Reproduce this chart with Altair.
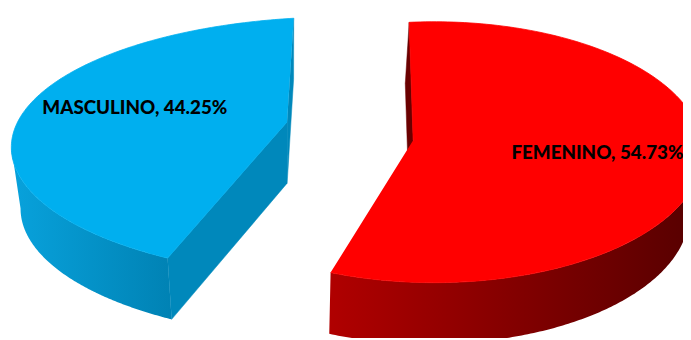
import math
import pandas as pd
import altair as alt

# ---- data -------------------------------------------------------------
categories = ["FEMENINO", "MASCULINO"]
values = [54.73, 44.25]          # percent

# ---- style --------------------------------------------------------------
top_color = {"FEMENINO": "#FF0000", "MASCULINO": "#00AFEF"}
wall_light = {"FEMENINO": "#B00000", "MASCULINO": "#08A2DC"}
wall_dark = {"FEMENINO": "#550000", "MASCULINO": "#0082B4"}
cut_color = {"FEMENINO": "#6A0000", "MASCULINO": "#0088BB"}

# ---- 3D pie geometry (layout constants, screen pixel units) -------------
APEX0 = (354.0, 131.5)       # un-exploded apex
APEX_EXPLODE = (64.7, 57.0)
RIM0 = (392.6, 149.7)        # un-exploded rim ellipse centre
RIM_EXPLODE = (47.2, 15.2)
A0, A_PERSP = 303.4, -31.9   # rim ellipse x semi-axis (varies with side)
B = 132.0                    # rim ellipse y semi-axis
K = 2.15                     # ray direction horizontal stretch
G = 0.00077                  # perspective convergence of radii
VX = 374.0
DEPTH = 62.0
HV, VXB = 0.033, 293.5       # perspective lean of vertical edges
LABEL_FRAC = 0.62
LABEL_DX = 5.0
N = 160


def rim_point(th, P, C, A):
    u = K * math.sin(th) + G * (P[0] - VX) * (-math.cos(th))
    v = -math.cos(th)
    dx, dy = P[0] - C[0], P[1] - C[1]
    a2 = (u / A) ** 2 + (v / B) ** 2
    b2 = 2 * (dx * u / A ** 2 + dy * v / B ** 2)
    c2 = (dx / A) ** 2 + (dy / B) ** 2 - 1
    s = (-b2 + math.sqrt(b2 * b2 - 4 * a2 * c2)) / (2 * a2)
    return P[0] + s * u, P[1] + s * v


def down(pt):
    x, y = pt
    return x - HV * (x - VXB), y + DEPTH


def silhouette(P, C, A):
    samples = [math.radians(d / 8) for d in range(0, 360 * 8)]
    xs_ = [(rim_point(t, P, C, A)[0], t) for t in samples]
    return max(xs_)[1], min(xs_)[1]    # theta of rightmost, leftmost


gap = (100 - sum(values)) / max(len(values) - 1, 1)
rows, labels, shapes = [], [], []
cum = 0.0
for cat, val in zip(categories, values):
    t0 = cum / 100 * 2 * math.pi
    t1 = (cum + val) / 100 * 2 * math.pi
    cum += val + gap
    mid = (t0 + t1) / 2
    dx_, dy_ = math.sin(mid), -math.cos(mid)
    P = (APEX0[0] + APEX_EXPLODE[0] * dx_, APEX0[1] + APEX_EXPLODE[1] * dy_)
    C = (RIM0[0] + RIM_EXPLODE[0] * dx_, RIM0[1] + RIM_EXPLODE[1] * dy_)
    A = A0 + A_PERSP * dx_

    # outer wall (front, visible part only: between the silhouette points)
    th_r, th_l = silhouette(P, C, A)
    w0 = max(t0, th_r)
    w1 = min(t1, th_l)
    if w1 > w0:
        pts = [rim_point(w0 + (w1 - w0) * k / N, P, C, A) for k in range(N + 1)]
        poly = pts + [down(p) for p in reversed(pts)]
        name = f"wall_{cat}"
        shapes.append((name, "wall", cat))
        rows += [dict(shape=name, i=j, x=x, y=y) for j, (x, y) in enumerate(poly)]

    # radial cut faces (visible ones)
    for th, sgn in ((t0, -1), (t1, 1)):
        nx, ny = sgn * math.cos(th), sgn * math.sin(th)
        if nx * (VX - P[0]) / A + 3 * ny > 0:
            R = rim_point(th, P, C, A)
            poly = [P, R, down(R), down(P)]
            name = f"cut_{cat}_{sgn}"
            shapes.append((name, "cut", cat))
            rows += [dict(shape=name, i=j, x=x, y=y) for j, (x, y) in enumerate(poly)]

    # top face
    pts = [P] + [rim_point(t0 + (t1 - t0) * k / N, P, C, A) for k in range(N + 1)]
    name = f"top_{cat}"
    shapes.append((name, "top", cat))
    rows += [dict(shape=name, i=j, x=x, y=y) for j, (x, y) in enumerate(pts)]

    Rm = rim_point(mid, P, C, A)
    labels.append(dict(text=f"{cat}, {val:.2f}%",
                       x=P[0] + LABEL_FRAC * (Rm[0] - P[0]) + LABEL_DX,
                       y=P[1] + LABEL_FRAC * (Rm[1] - P[1])))

df = pd.DataFrame(rows)
lab = pd.DataFrame(labels)

xs = alt.X("x:Q", scale=alt.Scale(domain=[8, 691], nice=False, zero=False), axis=None)
ys = alt.Y("y:Q", scale=alt.Scale(domain=[8, 340], nice=False, zero=False, reverse=True), axis=None)

layers = []
order_kind = {"wall": 0, "cut": 1, "top": 2}
for name, kind, cat in sorted(shapes, key=lambda s: (categories.index(s[2]), order_kind[s[1]])):
    if kind == "wall":
        fill = alt.LinearGradient(
            gradient="linear",
            stops=[alt.GradientStop(color=wall_light[cat], offset=0),
                   alt.GradientStop(color=wall_dark[cat], offset=1)],
            x1=0, x2=1, y1=0, y2=0)
        mk = dict(fill=fill, strokeWidth=0)
    elif kind == "cut":
        mk = dict(fill=cut_color[cat], stroke=cut_color[cat], strokeWidth=0.5)
    else:
        mk = dict(fill=top_color[cat], stroke=top_color[cat], strokeWidth=0.8)
    layers.append(
        alt.Chart(df).transform_filter(alt.datum.shape == name)
        .mark_line(clip=True, **mk)
        .encode(x=xs, y=ys, order=alt.Order("i:Q"))
    )

text = alt.Chart(lab).mark_text(
    font="Lato", fontWeight=900, fontSize=19, color="#000000",
    align="center", baseline="middle", clip=True
).encode(x=xs, y=ys, text="text:N")

chart = alt.layer(*layers, text).properties(
    width=683, height=332, padding=0, autosize=alt.AutoSizeParams(type="none")
).configure_view(stroke=None)

chart.save("out.html", embed_options={"renderer": "svg", "actions": False})
